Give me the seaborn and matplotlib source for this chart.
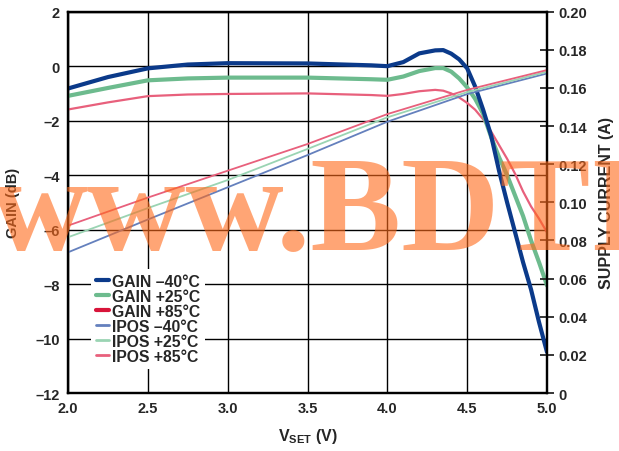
import seaborn as sns
import matplotlib.pyplot as plt
from matplotlib.lines import Line2D
from matplotlib.ticker import FixedLocator, FuncFormatter

# gain curves
vset_gain = [2.0, 2.25, 2.5, 2.75, 3.0, 3.5, 3.9, 4.0, 4.1, 4.2, 4.3, 4.35, 4.4, 4.45,
             4.5, 4.55, 4.6, 4.65, 4.7, 4.75, 4.8, 4.85, 4.9, 4.95, 5.0]
gain_m40 = [-0.82, -0.40, -0.08, 0.06, 0.11, 0.10, 0.03, 0.0, 0.15, 0.47, 0.58, 0.59, 0.46, 0.25,
            -0.08, -0.75, -1.6, -2.55, -3.85, -5.0, -6.1, -7.2, -8.2, -9.4, -10.5]
gain_p25 = [-1.09, -0.80, -0.52, -0.45, -0.42, -0.42, -0.48, -0.50, -0.38, -0.18, -0.07, -0.07, -0.20, -0.45,
            -0.78, -1.20, -1.75, -2.6, -3.35, -4.0, -4.75, -5.5, -6.4, -7.2, -8.05]
gain_p85 = [-1.59, -1.33, -1.10, -1.04, -1.02, -1.0, -1.06, -1.09, -1.02, -0.92, -0.87, -0.90, -1.0, -1.15,
            -1.35, -1.6, -1.95, -2.4, -2.9, -3.4, -3.95, -4.6, -5.15, -5.6, -6.1]

# supply current (A)
vset_ipos = [2.0, 2.5, 3.0, 3.5, 4.0, 4.5, 5.0]
ipos_m40 = [0.0738, 0.091, 0.1079, 0.1248, 0.1423, 0.1568, 0.1676]
ipos_p25 = [0.0817, 0.097, 0.1117, 0.1280, 0.1446, 0.1578, 0.1685]
ipos_p85 = [0.0878, 0.1025, 0.1166, 0.1306, 0.1463, 0.1590, 0.1694]

labels = ['GAIN \u201340°C', 'GAIN +25°C', 'GAIN +85°C',
          'IPOS \u201340°C', 'IPOS +25°C', 'IPOS +85°C']

sns.set_theme(style='white')
plt.rcParams['font.family'] = ['Liberation Sans', 'DejaVu Sans']
plt.rcParams['font.weight'] = 'bold'
plt.rcParams['mathtext.fontset'] = 'custom'
plt.rcParams['mathtext.rm'] = 'Liberation Sans:bold'
plt.rcParams['axes.unicode_minus'] = False

fig = plt.figure(figsize=(6.19, 4.52), dpi=100)
ax = fig.add_axes([0.1099, 0.1283, 0.7738, 0.8436])
ax2 = ax.twinx()

c_blue, c_green, c_pink = '#0b3a8a', '#6dbb8e', '#e8607c'
c_blue_l, c_green_l, c_red = '#6480bd', '#9ad4b3', '#d8143a'

sns.lineplot(x=vset_ipos, y=ipos_m40, ax=ax2, color=c_blue_l, linewidth=1.3)
sns.lineplot(x=vset_ipos, y=ipos_p25, ax=ax2, color=c_green_l, linewidth=1.3)
sns.lineplot(x=vset_ipos, y=ipos_p85, ax=ax2, color=c_pink, linewidth=1.3)

sns.lineplot(x=vset_gain, y=gain_p85, ax=ax, color=c_pink, linewidth=1.6)
sns.lineplot(x=vset_gain, y=gain_p25, ax=ax, color=c_green, linewidth=3.0)
sns.lineplot(x=vset_gain, y=gain_m40, ax=ax, color=c_blue, linewidth=3.0)

ax.set_xlim(2.0, 5.0)
ax.set_ylim(-12, 2)
ax2.set_ylim(0, 0.20)
ax.set_xticks([2.0, 2.5, 3.0, 3.5, 4.0, 4.5, 5.0])
ax.set_xticklabels(['2.0', '2.5', '3.0', '3.5', '4.0', '4.5', '5.0'])
ax.set_yticks(range(-12, 3, 2))
ax.set_yticklabels([('\u2013' + str(-v)) if v < 0 else str(v) for v in range(-12, 3, 2)])
ax.grid(True, color='black', linewidth=1.0)
ax.tick_params(axis='both', length=0, labelsize=10.5, pad=6)

ax2.yaxis.set_major_locator(FixedLocator([i * 0.02 for i in range(11)]))
ax2.yaxis.set_major_formatter(FuncFormatter(lambda v, p: '0' if abs(v) < 1e-9 else f'{v:.2f}'))
ax2.tick_params(axis='y', direction='inout', length=10, width=1.3, labelsize=10.5, pad=3)

for a in (ax, ax2):
    for s in a.spines.values():
        s.set_color('black')
        s.set_linewidth(1.6)

ax.set_xlabel(r'V$_\mathrm{SET}$ (V)', fontsize=11.5, fontweight='bold', labelpad=8)
ax.set_ylabel('GAIN (dB)', fontsize=10.5, fontweight='bold', labelpad=11)
ax2.set_ylabel('SUPPLY CURRENT (A)', fontsize=11.5, fontweight='bold', labelpad=9)

handles = [Line2D([], [], color=c_blue, lw=3), Line2D([], [], color=c_green, lw=3),
           Line2D([], [], color=c_red, lw=3), Line2D([], [], color=c_blue_l, lw=2),
           Line2D([], [], color=c_green_l, lw=2), Line2D([], [], color=c_pink, lw=2)]
leg = ax2.legend(handles, labels, loc='upper left', bbox_to_anchor=(0.0486, 0.325),
                 frameon=True, fancybox=False, edgecolor='none', facecolor='white', framealpha=1,
                 fontsize=11.3, handlelength=0.85, handletextpad=0.2, labelspacing=0.0,
                 borderpad=0.3, borderaxespad=0)

# watermark
fig.text(-0.016, 0.447, 'www.BDTI', fontsize=98, fontweight='bold', family='Liberation Serif',
         color='#ff6a1a', alpha=0.6, zorder=10)

fig.savefig('out.png', dpi=100)
